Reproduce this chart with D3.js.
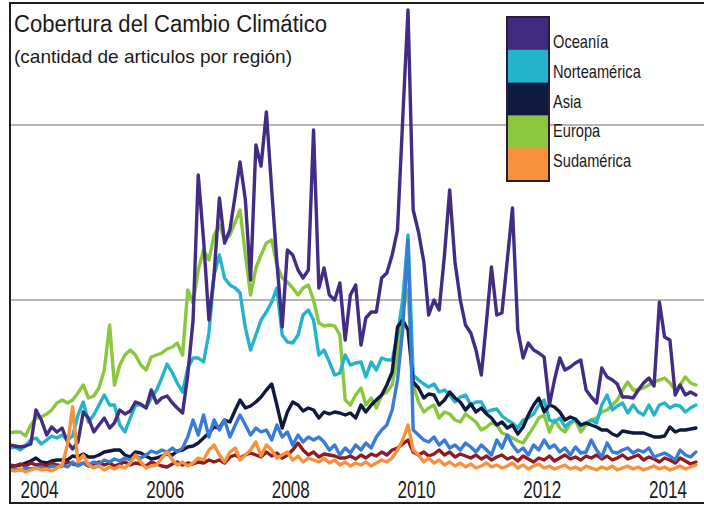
<!DOCTYPE html>
<html><head><meta charset="utf-8">
<script src="https://cdn.jsdelivr.net/npm/d3@7"></script>
<style>body{margin:0;background:#fff} svg{display:block}</style>
</head><body><svg id="c" width="704" height="506"></svg>
<script>
// ---- DATA (monthly, starting July 2003) ----
const startMonth = "2003-07";
const oceania = [30,29,28,29,31,65,55,40,48,43, 47,33,26,33,63,57,43,50,57,47, 52,65,61,64,73,71,67,85,72,77,
 79,72,67,62,100,155,300,235,155,200, 277,232,245,280,313,275,195,330,309,363, 285,213,148,225,220,205,197,205,345,187,
 207,180,175,192,135,180,190,130,157,163, 163,197,202,220,245,355,465,265,243,213, 160,175,165,220,285,213,175,150,142,125,
 100,155,208,160,162,215,267,145,117,132, 125,122,118,70,95,117,105,108,112,115, 85,78,72,107,98,95,91,78,78,77,
 85,92,97,89,173,138,135,80,90,80, 83,80];
const europa = [42,43,43,39,50,57,58,61,65,72, 75,72,75,82,90,77,79,87,105,150, 90,110,120,125,120,110,105,118,120,122,
 126,128,132,120,185,172,205,225,215,240, 250,235,240,253,265,220,180,207,220,232, 235,210,197,193,187,180,187,190,175,152,
 149,150,149,140,75,70,80,87,70,77, 67,80,83,90,120,165,185,90,73,63, 67,70,57,63,61,55,53,61,57,53,
 45,48,52,50,42,40,37,34,32,40, 48,57,60,43,55,47,43,51,55,43, 50,55,57,63,65,70,75,85,93,85,
 85,87,90,93,95,97,92,85,90,98, 92,90];
const norteamerica = [27,28,25,29,35,37,31,35,39,37, 40,35,39,60,73,53,60,70,80,70, 70,50,43,57,70,70,67,77,85,97,
 111,102,92,83,107,117,117,113,142,200, 220,197,190,187,182,147,125,140,155,163, 173,187,140,133,132,140,160,165,155,120,
 125,113,100,102,120,110,112,113,98,113, 105,117,115,115,140,175,240,100,95,91, 88,91,83,85,80,73,78,80,70,73,
 73,63,65,66,59,55,52,47,55,57, 61,70,75,55,53,57,48,53,55,49, 52,55,52,70,80,65,69,72,62,70,
 63,60,70,60,70,72,67,70,69,63, 67,70];
const asia = [8,9,10,12,14,17,13,12,14,15, 15,15,19,18,21,18,18,20,23,24, 25,25,20,18,23,22,19,16,17,19,
 21,20,24,25,28,29,32,37,42,48, 47,55,53,65,75,67,69,73,78,85, 91,70,47,63,73,70,64,67,65,57,
 63,61,63,62,60,62,57,70,63,70, 75,80,90,103,148,155,145,93,87,77, 81,80,70,75,83,77,73,65,71,63,
 67,61,57,50,53,47,50,41,48,60, 70,77,63,70,68,63,55,58,56,50, 52,50,48,45,45,41,39,44,43,42,
 42,42,40,38,38,39,48,43,45,45, 46,47];
const sudamerica = [5,4,6,3,5,7,5,6,4,7, 10,30,68,13,20,10,7,9,5,8, 6,9,7,12,20,13,7,9,10,17,
 23,15,10,13,9,12,17,15,25,30, 20,13,23,27,15,20,25,33,19,30, 25,17,20,23,15,19,13,17,15,13,
 17,12,15,10,13,9,12,10,13,9, 12,15,13,17,25,35,50,25,20,13, 17,12,15,10,13,9,12,8,11,7,
 9,12,8,10,7,9,12,7,10,6, 9,11,7,9,6,8,10,6,8,5, 9,7,5,8,6,9,5,7,9,6,
 8,5,7,9,6,8,5,7,9,6, 8,10];
const otraAzul = [5,6,5,7,6,7,8,6,9,8, 10,8,13,9,12,10,13,11,15,13, 16,14,17,15,19,17,20,24,22,25,
 23,27,23,27,38,55,40,60,38,55, 45,55,38,50,60,50,40,47,43,45, 35,50,38,43,30,40,33,38,35,38,
 33,25,30,20,27,22,30,25,32,27, 38,45,50,65,95,145,235,45,40,35, 33,38,30,35,27,30,25,32,28,23,
 30,25,20,35,27,40,30,23,27,20, 30,25,35,27,30,23,27,20,28,22, 23,35,25,18,32,23,22,25,27,22,
 25,23,27,18,20,22,19,15,25,20, 18,23];
const otraRoja = [10,9,11,9,12,10,11,9,12,10, 9,13,11,10,12,9,11,13,10,12, 9,11,13,10,12,11,9,13,11,9,
 8,11,13,10,12,11,13,12,15,13, 15,12,18,20,17,20,22,20,18,23, 19,22,17,20,25,32,25,20,23,18,
 21,20,19,17,17,19,16,20,17,21, 19,23,20,25,27,31,35,23,20,23, 19,21,25,20,23,18,21,19,17,20,
 16,19,15,18,20,16,18,14,19,16, 13,17,15,19,14,17,20,16,18,15, 19,17,20,16,19,15,17,20,16,18,
 20,15,18,16,13,17,15,12,17,14, 11,13];

const legendNames = ["Oceanía","Norteamérica","Asia","Europa","Sudamérica"];
const legendColors = ["#3f2b80","#25b3cc","#0f1a3e","#8cc63f","#f7913b"];
const yearTicks = [2004,2006,2008,2010,2012,2014];
const gridValues = [175,350];

// draw order (bottom to top)
const drawSeries = [
  {values: europa, color: "#8cc63f"},
  {values: norteamerica, color: "#25b3cc"},
  {values: asia, color: "#0f1a3e"},
  {values: otraRoja, color: "#8e1b1f"},
  {values: otraAzul, color: "#3a7bd5"},
  {values: oceania, color: "#422c84"},
  {values: sudamerica, color: "#f7913b"}
];

const svg = d3.select("#c");
const parse = d3.timeParse("%Y-%m");
const months = d3.range(oceania.length).map(i => d3.timeDay.offset(d3.timeMonth.offset(parse(startMonth), i), 14));

const x = d3.scaleTime().domain([new Date(2004,0,1), new Date(2014,0,1)]).range([38.9, 667.5]);
const y = d3.scaleLinear().domain([0,350]).range([475,125]);

svg.append("defs").append("clipPath").attr("id","plot")
  .append("rect").attr("x",11).attr("y",4).attr("width",693).attr("height",498);

// gridlines
svg.append("g").selectAll("line").data(gridValues).join("line")
  .attr("x1",10).attr("x2",704).attr("y1",d=>y(d)).attr("y2",d=>y(d))
  .attr("stroke","#9c9c9c").attr("stroke-width",1.6);

// title
svg.append("text").attr("x",14).attr("y",32)
  .attr("font-family","'Liberation Sans', Arial, sans-serif").attr("font-size",23)
  .attr("fill","#1a1a1a").attr("textLength",313).attr("lengthAdjust","spacingAndGlyphs")
  .text("Cobertura del Cambio Climático");
svg.append("text").attr("x",14).attr("y",63)
  .attr("font-family","'Liberation Sans', Arial, sans-serif").attr("font-size",18.5)
  .attr("fill","#1a1a1a").attr("textLength",278).attr("lengthAdjust","spacingAndGlyphs")
  .text("(cantidad de articulos por región)");

// lines
const line = d3.line().x((d,i)=>x(months[i])).y(d=>y(d)).curve(d3.curveLinear);
const lg = svg.append("g").attr("clip-path","url(#plot)");
lg.selectAll("path").data(drawSeries).join("path")
  .attr("d", s => line(s.values))
  .attr("fill","none").attr("stroke", s => s.color)
  .attr("stroke-width",3.4).attr("stroke-linejoin","round").attr("stroke-linecap","round");

// x axis
const xAxis = d3.axisBottom(x)
  .tickValues(yearTicks.map(yr => new Date(yr,0,1)))
  .tickFormat(d3.timeFormat("%Y")).tickSize(0).tickPadding(0);
const ga = svg.append("g").attr("transform","translate(0,482)").call(xAxis);
ga.select(".domain").remove();
ga.selectAll("text")
  .attr("font-family","'Liberation Sans', Arial, sans-serif")
  .attr("font-size",23).attr("fill","#1a1a1a")
  .attr("textLength",38).attr("lengthAdjust","spacingAndGlyphs");

// frame
const fr = svg.append("g").attr("stroke","#1e1e1e").attr("stroke-width",2);
fr.append("line").attr("x1",10).attr("x2",10).attr("y1",3).attr("y2",503);
fr.append("line").attr("x1",9).attr("x2",704).attr("y1",3).attr("y2",3);
fr.append("line").attr("x1",9).attr("x2",704).attr("y1",503).attr("y2",503);

// legend
const leg = svg.append("g");
const bh = 32.8;
leg.selectAll("rect.sw").data(legendColors).join("rect").attr("class","sw")
  .attr("x",507).attr("y",(d,i)=>17+i*bh).attr("width",42).attr("height",bh+0.5)
  .attr("fill",d=>d);
leg.append("rect").attr("x",507).attr("y",17).attr("width",42).attr("height",bh*5)
  .attr("fill","none").attr("stroke","#2a1d3c").attr("stroke-width",2);
leg.selectAll("text").data(legendNames).join("text")
  .attr("x",553).attr("y",(d,i)=>48+i*29.8)
  .attr("font-family","'Liberation Sans', Arial, sans-serif")
  .attr("font-size",19).attr("fill","#1a1a1a")
  .text(d=>d)
  .each(function(){
    const w = this.getComputedTextLength();
    d3.select(this).attr("textLength", w*0.77).attr("lengthAdjust","spacingAndGlyphs");
  });
</script></body></html>
